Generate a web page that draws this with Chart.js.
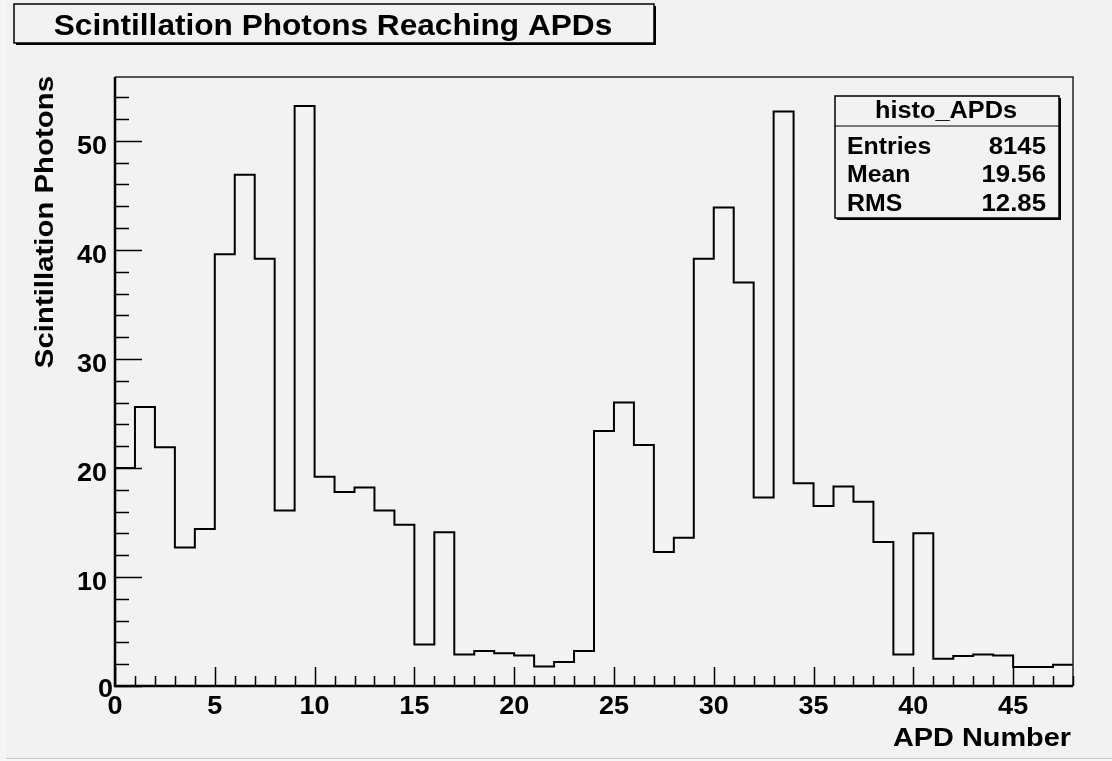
<!DOCTYPE html>
<html>
<head>
<meta charset="utf-8">
<title>Scintillation Photons Reaching APDs</title>
<script src="https://cdn.jsdelivr.net/npm/chart.js@4.4.1/dist/chart.umd.min.js"></script>
<style>
  html, body { margin: 0; padding: 0; background: #f2f2f2; }
  #wrap { width: 1112px; height: 761px; }
</style>
</head>
<body>
<div id="wrap"><canvas id="chart" width="1112" height="761"></canvas></div>
<script>
// bin lower edges (APD number) and photons per bin
const apdNumber = Array.from({ length: 48 }, (_, i) => i);
const photons = [
  20.0, 25.6, 21.9, 12.7, 14.4, 39.6, 46.9, 39.2, 16.1, 53.2,
  19.2, 17.8, 18.2, 16.1, 14.8, 3.8, 14.1, 2.9, 3.2, 3.0,
  2.8, 1.8, 2.2, 3.2, 23.4, 26.0, 22.1, 12.3, 13.6, 39.2,
  43.9, 37.0, 17.3, 52.7, 18.6, 16.5, 18.3, 16.9, 13.2, 2.9,
  14.0, 2.5, 2.75, 2.9, 2.8, 1.75, 1.75, 1.95,
];
const xMajorStep = 5;
const xMinorStep = 1;
const yMajorStep = 10;
const yMinorStep = 2;

const chartTitle = "Scintillation Photons Reaching APDs";
const xTitle = "APD Number";
const yTitle = "Scintillation Photons";
const statsName = "histo_APDs";
const statsLabels = ["Entries", "Mean", "RMS"];
const statsValues = ["8145", "19.56", "12.85"];

const FONT = '"Liberation Sans", Arial, Helvetica, sans-serif';

// histogram outline: one point per bin edge, last bin closed at the upper edge
const points = apdNumber.map((x, i) => ({ x: x, y: photons[i] }));
points.push({ x: apdNumber.length, y: photons[photons.length - 1] });

function drawText(ctx, text, x, y, size, align, sx) {
  ctx.save();
  ctx.font = "bold " + size + "px " + FONT;
  ctx.textAlign = "left";
  ctx.textBaseline = "alphabetic";
  const w = ctx.measureText(text).width * sx;
  let x0 = x;
  if (align === "center") x0 = x - w / 2;
  if (align === "right") x0 = x - w;
  ctx.translate(x0, y);
  ctx.scale(sx, 1);
  ctx.fillStyle = "#000";
  ctx.fillText(text, 0, 0);
  ctx.restore();
}

function shadowBox(ctx, x1, y1, x2, y2) {
  ctx.save();
  ctx.fillStyle = "#000";
  ctx.fillRect(x1 + 2, y1 + 2, x2 - x1, y2 - y1);
  ctx.fillStyle = "#f2f2f2";
  ctx.fillRect(x1, y1, x2 - x1, y2 - y1);
  ctx.strokeStyle = "#000";
  ctx.lineWidth = 1.5;
  ctx.strokeRect(x1, y1, x2 - x1, y2 - y1);
  ctx.restore();
}

const rootStyle = {
  id: "rootStyle",
  beforeDraw(chart) {
    const ctx = chart.ctx;
    ctx.save();
    ctx.fillStyle = "#f2f2f2";
    ctx.fillRect(0, 0, chart.width, chart.height);
    ctx.fillStyle = "#f6f6f6";
    ctx.fillRect(0, 0, 6, 758);
    ctx.fillStyle = "#c9c9c9";
    ctx.fillRect(6, 758, chart.width, 1);
    ctx.fillStyle = "#f7f7f7";
    ctx.fillRect(0, 759, chart.width, 2);
    ctx.restore();
  },
  afterDatasetsDraw(chart) {
    const ctx = chart.ctx;
    const a = chart.chartArea;
    const xs = chart.scales.x;
    const ys = chart.scales.y;

    ctx.save();
    // frame
    ctx.strokeStyle = "#222";
    ctx.lineWidth = 1.5;
    ctx.beginPath();
    ctx.moveTo(a.left, a.top);
    ctx.lineTo(a.right, a.top);
    ctx.lineTo(a.right, a.bottom);
    ctx.stroke();
    ctx.strokeStyle = "#000";
    ctx.lineWidth = 2.5;
    ctx.beginPath();
    ctx.moveTo(a.left, a.top);
    ctx.lineTo(a.left, a.bottom);
    ctx.lineTo(a.right, a.bottom);
    ctx.stroke();

    // tick marks, drawn inside the frame
    ctx.lineWidth = 1.5;
    ctx.beginPath();
    for (let v = xs.min; v <= xs.max + 1e-9; v += xMinorStep) {
      const px = Math.round(xs.getPixelForValue(v)) + 0.5;
      const len = v % xMajorStep === 0 ? 19 : 10;
      ctx.moveTo(px, a.bottom);
      ctx.lineTo(px, a.bottom - len);
    }
    for (let v = ys.min; v <= ys.max + 1e-9; v += yMinorStep) {
      const py = Math.round(ys.getPixelForValue(v)) + 0.5;
      const len = v % yMajorStep === 0 ? 27 : 14;
      ctx.moveTo(a.left, py);
      ctx.lineTo(a.left + len, py);
    }
    ctx.stroke();
    ctx.restore();

    // tick labels
    xs.ticks.forEach((t) => {
      drawText(ctx, String(t.value), xs.getPixelForValue(t.value), a.bottom + 28, 25, "center", 1.08);
    });
    ys.ticks.forEach((t) => {
      const py = ys.getPixelForValue(t.value);
      if (t.value === 0) {
        drawText(ctx, "0", a.left - 2, py + 11, 25, "right", 1.08);
      } else {
        drawText(ctx, String(t.value), a.left - 8, py + 13, 25, "right", 1.08);
      }
    });

    // axis titles
    drawText(ctx, xTitle, 1071, 746, 26, "right", 1.11);
    ctx.save();
    ctx.translate(53, 76);
    ctx.rotate(-Math.PI / 2);
    drawText(ctx, yTitle, 0, 0, 26, "right", 1.13);
    ctx.restore();

    // title box
    shadowBox(ctx, 14, 4, 654, 43);
    drawText(ctx, chartTitle, 333, 35, 29, "center", 1.09);

    // stats box
    shadowBox(ctx, 835, 96, 1059, 218);
    ctx.save();
    ctx.strokeStyle = "#000";
    ctx.lineWidth = 1.2;
    ctx.beginPath();
    ctx.moveTo(835, 126);
    ctx.lineTo(1059, 126);
    ctx.stroke();
    ctx.restore();
    drawText(ctx, statsName, 946, 118, 23, "center", 1.1);
    const rowBase = [153.5, 182, 211];
    statsLabels.forEach((lab, i) => {
      drawText(ctx, lab, 847, rowBase[i], 23, "left", 1.08);
      drawText(ctx, statsValues[i], 1046, rowBase[i], 23, "right", 1.12);
    });
  },
};

document.addEventListener("DOMContentLoaded", function () {
  const ctx = document.getElementById("chart").getContext("2d");
  new Chart(ctx, {
    type: "line",
    data: {
      datasets: [
        {
          label: statsName,
          data: points,
          stepped: "before",
          borderColor: "#000",
          borderWidth: 2,
          pointRadius: 0,
          fill: false,
        },
      ],
    },
    options: {
      responsive: false,
      animation: false,
      devicePixelRatio: 1,
      layout: { padding: { left: 0, right: 39, top: 77, bottom: 0 } },
      plugins: {
        legend: { display: false },
        title: { display: false },
        tooltip: { enabled: false },
      },
      scales: {
        x: {
          type: "linear",
          min: 0,
          max: apdNumber.length,
          grid: { display: false },
          border: { display: false },
          ticks: { display: false, stepSize: xMajorStep, includeBounds: false },
          afterFit(scale) { scale.height = 75; },
        },
        y: {
          type: "linear",
          min: 0,
          max: Math.max(...photons) * 1.05,
          grid: { display: false },
          border: { display: false },
          ticks: { display: false, stepSize: yMajorStep, includeBounds: false },
          afterFit(scale) { scale.width = 115; },
        },
      },
    },
    plugins: [rootStyle],
  });
});
</script>
</body>
</html>
